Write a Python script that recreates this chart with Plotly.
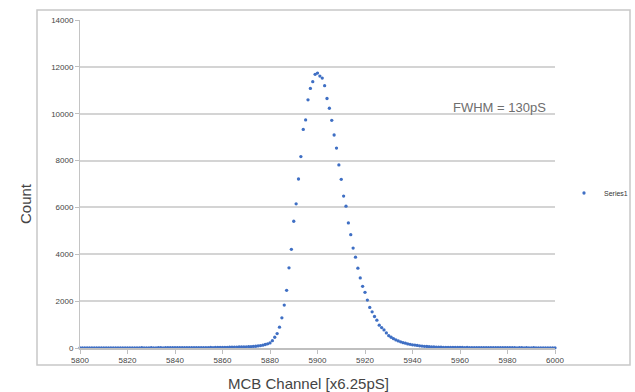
import plotly.graph_objects as go

channels = list(range(5800, 6001))
counts = (
    [4, 6, 3, 5, 7, 4, 6, 5, 3, 8, 5, 6, 4, 7, 5, 6, 8, 5, 7, 6]
    + [8, 6, 9, 7, 5, 8, 10, 7, 9, 8, 11, 9, 7, 10, 12, 9, 11, 10, 13, 11]
    + [12, 10, 14, 13, 11, 15, 14, 16, 13, 17, 15, 18, 16, 19, 17, 21, 19, 23, 22, 25]
    + [26, 30, 28, 33, 36, 40, 38, 44, 48, 46]
    + [52, 58, 55, 66, 74, 88, 104, 122, 150, 178]
    + [215, 313, 459, 614, 889, 1288, 1833, 2461, 3422, 4210]
    + [5411, 6153, 7214, 8172, 9331, 9735, 10594, 11079, 11367, 11680]
    + [11736, 11607, 11521, 11195, 10649, 10233, 9718, 9091, 8532, 7815]
    + [7201, 6484, 6055, 5338, 4839, 4265, 3878, 3406, 2992, 2633]
    + [2375, 2047, 1731, 1546, 1345, 1189, 975, 872, 773, 644]
    + [528, 459, 399, 344, 300, 262, 228, 204, 176, 158]
    + [136, 124, 108, 94, 82, 71, 63, 55, 48, 42]
    + [38, 34, 31, 28, 30, 26, 24, 27, 22, 25]
    + [21, 23, 19, 22, 18, 20, 17, 19, 16, 18]
    + [15, 17, 14, 16, 13, 15, 12, 14, 13, 11]
    + [12, 10, 13, 11, 9, 12, 10, 8, 11, 9]
    + [8, 10, 7, 9, 8, 6, 9, 7, 8, 6, 7]
)
x_ticks = [5800, 5820, 5840, 5860, 5880, 5900, 5920, 5940, 5960, 5980, 6000]
y_ticks = [0, 2000, 4000, 6000, 8000, 10000, 12000, 14000]
series_name = "Series1"
note_text = "FWHM = 130pS"
x_title = "MCB Channel [x6.25pS]"
y_title = "Count"

fig = go.Figure()
fig.add_trace(go.Scatter(
    x=channels, y=counts, mode="markers", name=series_name,
    marker=dict(size=3.3, color="#3f6fc4"), cliponaxis=False,
))

W, H = 635, 392
L, R, T, B = 80, 80, 20, 44
pw, ph = W - L - R, H - T - B

def px_x(p):
    return (p - L) / pw

def px_y(p):
    return (H - B - p) / ph

fig.update_layout(
    width=W, height=H,
    margin=dict(l=L, r=R, t=T, b=B, autoexpand=False),
    paper_bgcolor="white", plot_bgcolor="white",
    font=dict(family="Liberation Sans, Arial, sans-serif", color="#444"),
    showlegend=True,
    legend=dict(x=px_x(564), y=px_y(193), xanchor="left", yanchor="middle",
                font=dict(size=7, color="#333"), bgcolor="rgba(0,0,0,0)",
                itemwidth=30),
    xaxis=dict(range=[5800, 6000], tickvals=x_ticks, tickformat="d", showgrid=False,
               showline=True, linecolor="#bfbfbf", linewidth=1.5,
               ticks="outside", ticklen=4, tickcolor="#bfbfbf",
               tickfont=dict(size=8, color="#444"), zeroline=False,
               automargin=False),
    yaxis=dict(range=[0, 14000], tickvals=y_ticks, tickformat="d", showgrid=True,
               gridcolor="#d4d4d4", gridwidth=1.5,
               showline=True, linecolor="#c4c4c4", linewidth=1,
               ticks="outside", ticklen=4, tickcolor="#bfbfbf",
               tickfont=dict(size=8, color="#444"), zeroline=False,
               automargin=False),
    shapes=[dict(type="rect", xref="paper", yref="paper",
                 x0=px_x(37), x1=px_x(630), y0=px_y(365), y1=px_y(10),
                 line=dict(color="#c8c8c8", width=1.5), fillcolor="rgba(0,0,0,0)",
                 layer="below")],
    annotations=[
        dict(text=note_text, xref="paper", yref="paper", x=px_x(548), y=px_y(107),
             xanchor="right", yanchor="middle", showarrow=False,
             font=dict(size=13, color="#6e6e6e")),
        dict(text=x_title, xref="paper", yref="paper", x=px_x(308), y=px_y(383),
             xanchor="center", yanchor="middle", showarrow=False,
             font=dict(size=15, color="#444")),
        dict(text=y_title, xref="paper", yref="paper", x=px_x(25), y=px_y(204),
             xanchor="center", yanchor="middle", showarrow=False, textangle=-90,
             font=dict(size=15, color="#444")),
    ],
)

fig.write_html("out.html")
